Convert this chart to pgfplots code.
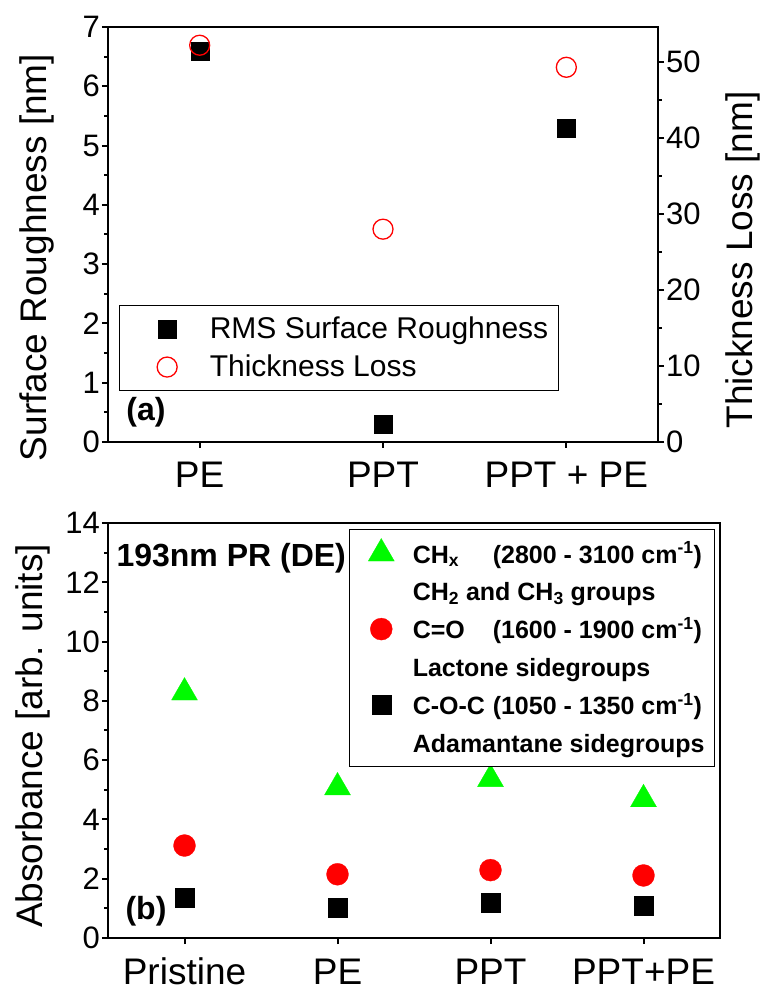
\documentclass[border=0pt]{standalone}
\usepackage{fontspec}
\setmainfont{Liberation Sans}
\usepackage{pgfplots}
\pgfplotsset{compat=1.18}
\definecolor{mygreen}{RGB}{0,250,0}
\begin{document}
\begin{tikzpicture}
\path[use as bounding box] (0,0) rectangle (760pt,989pt);
\pgfplotsset{
  common/.style={
    scale only axis,
    /pgf/number format/assume math mode=true,
    axis line style={line width=2.4pt},
    tick style={line width=2pt, black},
    tick align=outside,
    major tick length=6pt,
    minor tick length=3.5pt,
    yticklabel style={font=\fontsize{31}{37}\selectfont},
    xticklabel style={font=\fontsize{37}{44}\selectfont, anchor=base, inner sep=0pt, yshift=-40pt},
    label style={font=\fontsize{37}{44}\selectfont},
  }
}
% ---------- panel (a), left axis ----------
\begin{axis}[common,
  at={(108pt,547pt)}, anchor=south west, width=550pt, height=415pt,
  xmin=-0.5, xmax=2.5, ymin=0, ymax=7,
  xtick={0,1,2}, xticklabels={PE,PPT,PPT + PE},
  ytick={0,1,...,7}, minor ytick={0.5,1.5,...,6.5},
  tick pos=left,
  yticklabel style={anchor=east, inner sep=0pt, xshift=-2pt},
  ylabel={Surface Roughness [nm]},
  ylabel style={at={(axis description cs:-0.1127,0.4446)}, anchor=base},
  legend style={at={(0.02,0.330)}, anchor=north west, draw=black, line width=1pt,
    inner xsep=10pt, inner ysep=9pt, font=\fontsize{30}{36}\selectfont,
    row sep=9pt, column sep=0pt, nodes={inner sep=0pt, text height=24pt, text depth=5pt}},
  legend cell align=left,
  legend image code/.code={\path (0pt,0pt) (79pt,0pt); \draw[#1] plot coordinates {(37pt,0pt)};},
]
\addplot[only marks, mark=square*, mark size=9pt, black, mark options={line width=0.3pt}] coordinates {(0,6.60) (1,0.30) (2,5.30)};
\addlegendentry{RMS Surface Roughness}
\addlegendimage{only marks, mark=o, mark size=10pt, red, line width=1.3pt}
\addlegendentry{Thickness Loss}
\node[anchor=base west, font=\bfseries\fontsize{32}{38}\selectfont] at (rel axis cs:0.027,0.0506) {(a)};
\end{axis}
% ---------- panel (a), right axis ----------
\begin{axis}[common,
  at={(108pt,547pt)}, anchor=south west, width=550pt, height=415pt,
  xmin=-0.5, xmax=2.5, ymin=0, ymax=54.6,
  axis x line=none, axis y line*=right,
  ytick={0,10,...,50}, minor ytick={5,15,...,45},
  yticklabel style={anchor=west, inner sep=0pt, xshift=2pt},
  ylabel={Thickness Loss [nm]},
  ylabel style={at={(axis description cs:1.171,0.4386)}, anchor=base, rotate=0},
]
\addplot[only marks, mark=o, mark size=10pt, red, line width=1.3pt] coordinates {(0,52.2) (1,28.0) (2,49.3)};
\end{axis}
% ---------- panel (b) ----------
\begin{axis}[common,
  at={(108pt,51pt)}, anchor=south west, width=612pt, height=415pt,
  xmin=-0.5, xmax=3.5, ymin=0, ymax=14,
  xtick={0,1,2,3}, xticklabels={Pristine,PE,PPT,PPT+PE},
  ytick={0,2,...,14}, minor ytick={1,3,...,13},
  tick pos=left,
  yticklabel style={anchor=east, inner sep=0pt, xshift=-2pt},
  ylabel={Absorbance [arb. units]},
  ylabel style={at={(axis description cs:-0.1078,0.4867)}, anchor=base},
  legend style={at={(1,1)}, anchor=north east, xshift=-5pt, yshift=-6pt, draw=black, line width=1pt,
    inner xsep=10pt, inner ysep=9pt, font=\bfseries\fontsize{25}{30}\selectfont,
    row sep=8.8pt, column sep=0pt, nodes={inner sep=0pt, text height=24pt, text depth=5pt}},
  legend cell align=left,
  legend image code/.code={\path (0pt,0pt) (52pt,0pt); \draw[#1] plot coordinates {(21pt,0pt)};},
]
\addplot[only marks, mark=triangle*, mark size=15pt, color=mygreen, mark options={line width=0.3pt}] coordinates {(0,8.28) (1,5.08) (2,5.36) (3,4.68)};
\addlegendentry{\makebox[3.2em][l]{CH\textsubscript{x}}(2800 - 3100 cm\textsuperscript{-1})}
\addlegendimage{empty legend}
\addlegendentry{CH\textsubscript{2} and CH\textsubscript{3} groups}
\addplot[only marks, mark=*, mark size=11pt, color=red, mark options={line width=0.3pt}] coordinates {(0,3.12) (1,2.15) (2,2.29) (3,2.11)};
\addlegendentry{\makebox[3.2em][l]{C=O}(1600 - 1900 cm\textsuperscript{-1})}
\addlegendimage{empty legend}
\addlegendentry{Lactone sidegroups}
\addplot[only marks, mark=square*, mark size=9.5pt, color=black, mark options={line width=0.3pt}] coordinates {(0,1.37) (1,1.03) (2,1.18) (3,1.10)};
\addlegendentry{\makebox[3.2em][l]{C-O-C}(1050 - 1350 cm\textsuperscript{-1})}
\addlegendimage{empty legend}
\addlegendentry{Adamantane sidegroups}
\node[anchor=base west, font=\bfseries\fontsize{32}{38}\selectfont] at (rel axis cs:0.0082,0.896) {193nm PR (DE)};
\node[anchor=base west, font=\bfseries\fontsize{32}{38}\selectfont] at (rel axis cs:0.0229,0.0434) {(b)};
\end{axis}
\end{tikzpicture}
\end{document}
